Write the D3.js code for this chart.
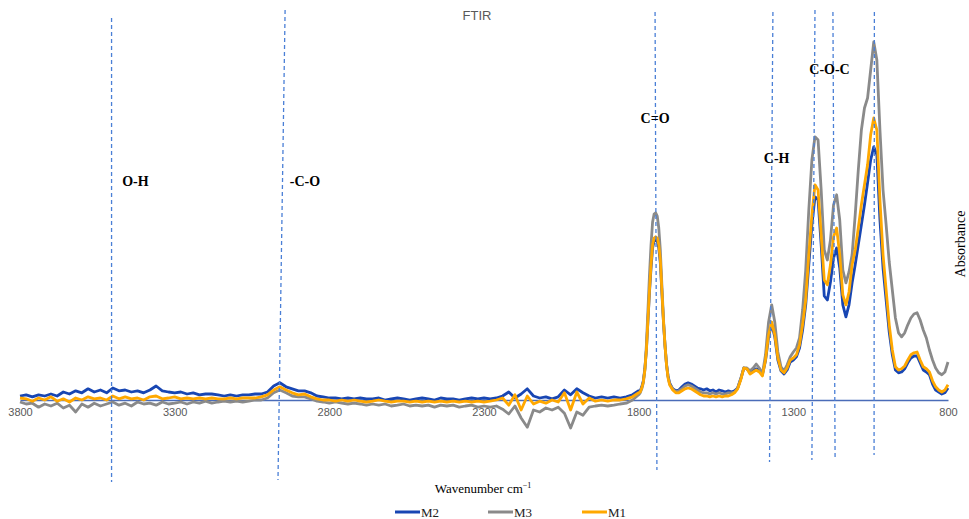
<!DOCTYPE html>
<html>
<head>
<meta charset="utf-8">
<script src="https://cdn.jsdelivr.net/npm/d3@7"></script>
<style>
  body { margin: 0; background: #fff; }
</style>
</head>
<body>
<div id="chart"></div>
<script>
// wavenumber grid (cm-1)
const wnA = [3800,3780,3760,3740,3720,3700,3680,3660,3640,3620,3600,3580,3560,3540,3520,3500,3480,3460,3440,3420,
  3400,3380,3360,3340,3320,3300,3280,3260,3240,3220,3200,3180,3160,3140,3120,3100,3080,3060,3040,3020,
  3000,2980,2960,2940,2920,2900,2880,2860,2840,2820,2800,2780,2760,2740,2720,2700,2680,2660,2640,2620,
  2600,2580,2560,2540,2520,2500,2480,2460,2440,2420,2400,2380,2360,2340,2320,2300,2280,2260,2240,2220,
  2200,2180,2160,2140,2120,2100,2080,2060,2040,2020,2000,1980,1960,1940,1920,1900,1880,1860,1840,1820,1800];
const wnB = [1795,1790,1785,1780,1775,1770,1765,1760,1755,1750,1745,1740,1735,1730,1725,1720,1715,1710,1705,1700];
const wnC = [1690,1680,1670,1660,1650,1640,1630,1620,1610,1600,1590,1580,1570,1560,1550,1540,1530,1520,1510,1500,
  1490,1480,1470,1460,1450,1440,1430,1420,1410,1400];
const wnD = [1390,1380,1370,1360,1350,1340,1330,1320,1310,1300,1290,1280,1270,1260,1250,1240,1230,1220,1210,1200,
  1190,1180,1170,1160,1150,1140,1130,1120,1110,1100,1090,1080,1070,1060,1050,1040,1030,1020,1010,1000,
  990,980,970,960,950,940,930,920,910,900,890,880,870,860,850,840,830,820,810,800];
const wavenumber = [].concat(wnA, wnB, wnC, wnD);

// absorbance, same order as wavenumber
const m2 = [
  0.010,0.013,0.008,0.013,0.010,0.015,0.010,0.020,0.015,0.023,
  0.018,0.028,0.020,0.025,0.018,0.030,0.023,0.025,0.020,0.023,
  0.018,0.025,0.035,0.023,0.020,0.018,0.020,0.015,0.018,0.013,
  0.015,0.015,0.013,0.010,0.013,0.010,0.013,0.013,0.015,0.015,
  0.020,0.035,0.043,0.033,0.028,0.023,0.023,0.018,0.010,0.008,
  0.005,0.005,0.003,0.005,0.003,0.005,0.003,0.003,0.005,0.000,
  0.003,0.005,0.003,0.000,0.003,0.005,0.003,0.000,0.005,0.003,
  0.003,0.000,0.003,0.005,0.003,0.005,0.003,0.005,0.010,0.020,
  0.005,0.015,0.028,0.010,0.005,0.008,0.003,0.008,0.025,0.013,
  0.028,0.018,0.010,0.005,0.008,0.005,0.008,0.005,0.008,0.013,
  0.023,
  0.023,0.033,0.048,0.078,0.125,0.198,0.270,0.330,0.380,0.398,
  0.400,0.398,0.380,0.343,0.270,0.198,0.138,0.090,0.060,0.043,
  0.028,0.023,0.025,0.033,0.040,0.043,0.040,0.035,0.030,0.028,
  0.025,0.028,0.023,0.025,0.020,0.025,0.023,0.020,0.023,0.020,
  0.023,0.030,0.053,0.080,0.078,0.068,0.073,0.078,0.073,0.063,
  0.098,0.158,0.190,0.158,0.100,0.073,0.065,0.075,0.095,0.100,
  0.108,0.130,0.175,0.238,0.338,0.438,0.508,0.500,0.388,0.260,
  0.250,0.295,0.355,0.380,0.330,0.238,0.208,0.238,0.293,0.338,
  0.388,0.438,0.488,0.543,0.600,0.633,0.613,0.450,0.330,0.250,
  0.170,0.113,0.075,0.068,0.070,0.078,0.093,0.105,0.110,0.110,
  0.093,0.075,0.070,0.063,0.040,0.025,0.020,0.015,0.018,0.030
];
const m3 = [
  -0.005,-0.010,-0.008,-0.018,-0.010,-0.015,-0.008,-0.020,-0.013,-0.030,
  -0.010,-0.018,-0.008,-0.015,-0.010,-0.005,-0.013,-0.008,-0.015,-0.005,
  -0.010,-0.008,-0.013,-0.005,-0.010,-0.008,-0.005,-0.010,-0.005,-0.008,
  -0.003,-0.008,-0.005,-0.003,-0.005,-0.003,-0.005,-0.003,0.000,0.000,
  0.005,0.018,0.025,0.018,0.010,0.008,0.008,0.003,-0.003,-0.005,
  -0.008,-0.005,-0.008,-0.010,-0.008,-0.010,-0.013,-0.010,-0.013,-0.010,
  -0.015,-0.013,-0.010,-0.015,-0.013,-0.015,-0.013,-0.018,-0.013,-0.015,
  -0.013,-0.018,-0.015,-0.013,-0.018,-0.015,-0.018,-0.015,-0.023,-0.035,
  -0.015,-0.045,-0.068,-0.025,-0.030,-0.020,-0.025,-0.018,-0.033,-0.070,
  -0.030,-0.038,-0.018,-0.015,-0.013,-0.015,-0.013,-0.010,-0.008,0.000,
  0.013,
  0.018,0.028,0.043,0.075,0.138,0.225,0.313,0.388,0.445,0.465,
  0.468,0.460,0.430,0.375,0.288,0.205,0.138,0.088,0.058,0.040,
  0.028,0.020,0.023,0.028,0.035,0.038,0.035,0.030,0.025,0.020,
  0.018,0.018,0.015,0.018,0.015,0.018,0.015,0.015,0.018,0.018,
  0.020,0.030,0.053,0.080,0.080,0.073,0.080,0.090,0.080,0.065,
  0.113,0.195,0.238,0.195,0.120,0.083,0.073,0.088,0.108,0.120,
  0.130,0.155,0.225,0.325,0.475,0.600,0.658,0.650,0.525,0.375,
  0.350,0.400,0.488,0.513,0.450,0.325,0.293,0.320,0.363,0.463,
  0.575,0.675,0.730,0.755,0.825,0.895,0.850,0.675,0.525,0.438,
  0.345,0.275,0.205,0.168,0.158,0.168,0.188,0.205,0.215,0.218,
  0.200,0.175,0.155,0.125,0.100,0.080,0.068,0.063,0.070,0.095
];
const m1 = [
  0.005,0.003,-0.003,0.005,0.000,0.008,-0.003,0.003,-0.005,0.005,
  0.000,0.008,0.003,0.005,0.000,0.010,0.003,0.008,0.003,0.005,
  0.000,0.008,0.010,0.003,0.005,0.008,0.003,0.005,0.003,0.005,
  0.003,0.005,0.003,0.003,0.005,0.003,0.005,0.005,0.005,0.008,
  0.013,0.025,0.033,0.025,0.018,0.013,0.015,0.008,0.003,0.000,
  0.000,-0.003,0.000,-0.003,0.000,-0.003,-0.005,-0.003,0.000,-0.003,
  -0.005,-0.003,-0.003,-0.005,-0.003,-0.005,-0.003,-0.005,-0.003,-0.005,
  -0.003,-0.005,-0.003,-0.005,-0.003,-0.005,-0.003,0.000,0.005,-0.013,
  0.013,-0.025,0.010,-0.010,-0.003,-0.008,0.000,-0.005,0.018,-0.025,
  0.020,-0.010,0.005,-0.003,0.000,-0.003,0.000,0.000,0.003,0.008,
  0.018,
  0.020,0.030,0.045,0.075,0.125,0.200,0.275,0.338,0.388,0.405,
  0.408,0.405,0.388,0.350,0.275,0.200,0.138,0.088,0.055,0.038,
  0.025,0.018,0.018,0.023,0.028,0.030,0.028,0.023,0.018,0.013,
  0.010,0.010,0.008,0.010,0.008,0.010,0.008,0.010,0.010,0.013,
  0.018,0.028,0.050,0.080,0.078,0.065,0.070,0.075,0.070,0.060,
  0.100,0.163,0.195,0.163,0.105,0.075,0.068,0.080,0.100,0.105,
  0.113,0.138,0.188,0.250,0.363,0.463,0.538,0.525,0.413,0.300,
  0.288,0.338,0.408,0.430,0.363,0.263,0.238,0.270,0.338,0.375,
  0.430,0.488,0.538,0.588,0.663,0.705,0.675,0.500,0.363,0.275,
  0.188,0.125,0.083,0.075,0.078,0.085,0.100,0.113,0.118,0.120,
  0.100,0.083,0.078,0.070,0.048,0.033,0.025,0.020,0.025,0.038
];

const seriesNames = ["M2", "M3", "M1"];
const xTicks = [3800, 3300, 2800, 2300, 1800, 1300, 800];

// band markers (dashed lines drawn slightly slanted like the original)
const markerTopWn = [3504, 2943, 1747, 1366, 1230, 1172, 1038];
const markerBottomWn = [3504, 2966, 1741, 1377, 1240, 1165, 1039];
const bandLabels = ["O-H", "-C-O", "C=O", "C-H", "C-O-C"];
const bandLabelWn = [3427, 2879, 1747, 1354, 1183];
const bandLabelAbs = [0.535, 0.535, 0.693, 0.593, 0.815];

const width = 969, height = 519;
const colors = ["#1846b3", "#8a8a8a", "#ffa800"];
const markerSpan = [[18, 482], [10, 480], [12, 470], [12, 462], [10, 460], [12, 460], [12, 455]];

const svg = d3.select("#chart")
  .append("svg")
  .attr("width", width)
  .attr("height", height)
  .style("display", "block");

const x = d3.scaleLinear().domain([3800, 800]).range([20, 948]);
const y = d3.scaleLinear().domain([0, 0.9]).range([400, 40]);

// title
svg.append("text")
  .attr("x", 477)
  .attr("y", 20)
  .attr("text-anchor", "middle")
  .attr("font-family", "Liberation Sans, Arial, sans-serif")
  .attr("font-size", 13)
  .attr("fill", "#595959")
  .text("FTIR");

// x axis
const axis = svg.append("g")
  .attr("transform", `translate(0, ${y(0)})`)
  .call(d3.axisBottom(x).tickValues(xTicks).tickSize(0).tickSizeOuter(0).tickPadding(8).tickFormat(d3.format("d")));
axis.select(".domain").attr("stroke", "#4a6cb8").attr("stroke-width", 1.3);
axis.selectAll("text")
  .attr("font-family", "Liberation Sans, Arial, sans-serif")
  .attr("font-size", 11)
  .attr("fill", "#595959");

// spectra
const line = d3.line()
  .x((d, i) => x(wavenumber[i]))
  .y(d => y(d));

const seriesData = [m2, m3, m1];
svg.selectAll(".spectrum")
  .data(seriesData)
  .enter()
  .append("path")
  .attr("class", "spectrum")
  .attr("d", line)
  .attr("fill", "none")
  .attr("stroke", (d, i) => colors[i])
  .attr("stroke-width", 2.8)
  .attr("stroke-linejoin", "round");

// dashed band markers
svg.selectAll(".marker")
  .data(markerTopWn)
  .enter()
  .append("line")
  .attr("class", "marker")
  .attr("x1", d => x(d))
  .attr("x2", (d, i) => x(markerBottomWn[i]))
  .attr("y1", (d, i) => markerSpan[i][0])
  .attr("y2", (d, i) => markerSpan[i][1])
  .attr("stroke", "#4a7fd6")
  .attr("stroke-width", 1.3)
  .attr("stroke-dasharray", "4,3");

// band labels
svg.selectAll(".band")
  .data(bandLabels)
  .enter()
  .append("text")
  .attr("class", "band")
  .attr("x", (d, i) => x(bandLabelWn[i]))
  .attr("y", (d, i) => y(bandLabelAbs[i]))
  .attr("text-anchor", "middle")
  .attr("font-family", "Liberation Serif, Times New Roman, serif")
  .attr("font-weight", "bold")
  .attr("font-size", 14)
  .attr("fill", "#000")
  .text(d => d);

// axis titles
const xTitle = svg.append("text")
  .attr("x", 483)
  .attr("y", 493)
  .attr("text-anchor", "middle")
  .attr("font-family", "Liberation Serif, Times New Roman, serif")
  .attr("font-size", 13)
  .attr("fill", "#000");
xTitle.append("tspan").text("Wavenumber cm");
xTitle.append("tspan").attr("font-size", 8).attr("dy", -5).text("\u22121");

svg.append("text")
  .attr("transform", "translate(965, 244) rotate(-90)")
  .attr("text-anchor", "middle")
  .attr("font-family", "Liberation Serif, Times New Roman, serif")
  .attr("font-size", 14)
  .attr("fill", "#000")
  .text("Absorbance");

// legend
const legendX = [395, 488, 582];
const legend = svg.selectAll(".legend")
  .data(seriesNames)
  .enter()
  .append("g")
  .attr("class", "legend")
  .attr("transform", (d, i) => `translate(${legendX[i]}, 512)`);

legend.append("line")
  .attr("x1", 0)
  .attr("x2", 25)
  .attr("stroke", (d, i) => colors[i])
  .attr("stroke-width", 3);

legend.append("text")
  .attr("x", 26)
  .attr("dy", "0.35em")
  .attr("font-family", "Liberation Serif, Times New Roman, serif")
  .attr("font-size", 13)
  .attr("fill", "#222")
  .text(d => d);
</script>
</body>
</html>
